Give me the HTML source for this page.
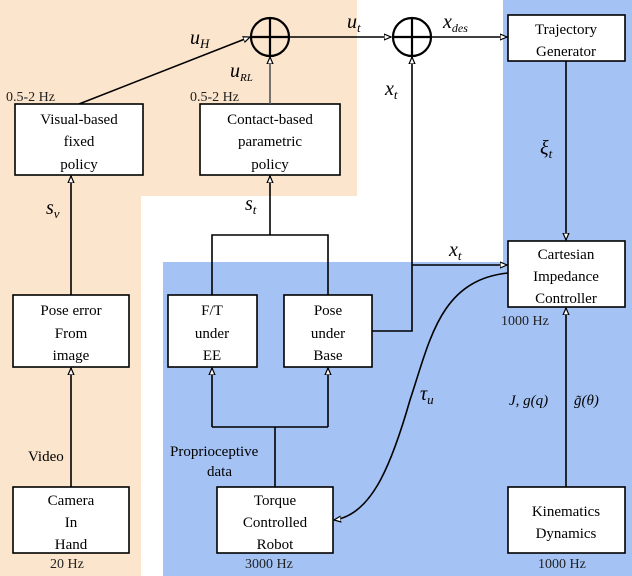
<!DOCTYPE html>
<html><head><style>
html,body{margin:0;padding:0;background:#fff;}
svg{display:block;}
text{font-family:"Liberation Serif",serif;font-size:15px;fill:#000;}
.m{font-style:italic;font-size:20px;}
.hz{font-size:14px;fill:#222;}
</style></head><body>
<svg width="632" height="576" viewBox="0 0 632 576" xmlns="http://www.w3.org/2000/svg">
<defs>
<marker id="a" markerWidth="8" markerHeight="8" refX="7" refY="4" orient="auto" markerUnits="userSpaceOnUse">
<path d="M0,1 L7,4 L0,7 Z" fill="#fff" stroke="#000" stroke-width="1.2"/>
</marker>
</defs>
<rect x="0" y="0" width="357" height="196" fill="#fce5cd"/>
<rect x="0" y="0" width="141" height="576" fill="#fce5cd"/>
<rect x="163" y="262" width="469" height="314" fill="#a4c2f4"/>
<rect x="503" y="0" width="129" height="576" fill="#a4c2f4"/>

<g fill="#fff" stroke="#000" stroke-width="1.6">
<rect x="15" y="104" width="128" height="71"/>
<rect x="200" y="104" width="140" height="71"/>
<rect x="508" y="15" width="117" height="46"/>
<rect x="508" y="241" width="117" height="66"/>
<rect x="13" y="295" width="116" height="72"/>
<rect x="168" y="295" width="89" height="72"/>
<rect x="284" y="295" width="88" height="72"/>
<rect x="13" y="487" width="116" height="66"/>
<rect x="217" y="487" width="116" height="66"/>
<rect x="508" y="487" width="117" height="66"/>
</g>
<g fill="none" stroke="#000" stroke-width="2.2">
<ellipse cx="270" cy="37" rx="19" ry="19"/>
<line x1="251" y1="37" x2="289" y2="37"/><line x1="270" y1="18" x2="270" y2="56"/>
<ellipse cx="412" cy="37" rx="19" ry="19"/>
<line x1="393" y1="37" x2="431" y2="37"/><line x1="412" y1="18" x2="412" y2="56"/>
</g>
<g fill="none" stroke="#000" stroke-width="1.6">
<line x1="79" y1="104" x2="250" y2="37" marker-end="url(#a)"/>
<line x1="270" y1="104" x2="270" y2="57" stroke="#555" marker-end="url(#a)"/>
<line x1="289" y1="37" x2="391" y2="37" marker-end="url(#a)"/>
<line x1="431" y1="37" x2="507" y2="37" marker-end="url(#a)"/>
<line x1="566" y1="61" x2="566" y2="240" marker-end="url(#a)"/>
<polyline points="372,331 412,331 412,57" marker-end="url(#a)"/>
<line x1="412" y1="265" x2="507" y2="265" marker-end="url(#a)"/>
<line x1="71" y1="295" x2="71" y2="176" marker-end="url(#a)"/>
<line x1="270" y1="235" x2="270" y2="176" marker-end="url(#a)"/>
<polyline points="212,295 212,235 328,235 328,295"/>
<line x1="71" y1="487" x2="71" y2="368" marker-end="url(#a)"/>
<line x1="275" y1="487" x2="275" y2="427"/>
<polyline points="212,427 328,427"/>
<line x1="212" y1="427" x2="212" y2="368" marker-end="url(#a)"/>
<line x1="328" y1="427" x2="328" y2="368" marker-end="url(#a)"/>
<line x1="566" y1="487" x2="566" y2="308" marker-end="url(#a)"/>
<path d="M508,273 C440,280 430,340 410,400 C390,470 370,515 334,520" marker-end="url(#a)"/>
</g>
<g text-anchor="middle">
<text x="79" y="124">Visual-based</text><text x="79" y="146">fixed</text><text x="79" y="169">policy</text>
<text x="270" y="124">Contact-based</text><text x="270" y="146">parametric</text><text x="270" y="169">policy</text>
<text x="566" y="34">Trajectory</text><text x="566" y="56">Generator</text>
<text x="566" y="259">Cartesian</text><text x="566" y="281">Impedance</text><text x="566" y="303">Controller</text>
<text x="71" y="315">Pose error</text><text x="71" y="338">From</text><text x="71" y="360">image</text>
<text x="212" y="315">F/T</text><text x="212" y="338">under</text><text x="212" y="360">EE</text>
<text x="328" y="315">Pose</text><text x="328" y="338">under</text><text x="328" y="360">Base</text>
<text x="71" y="505">Camera</text><text x="71" y="527">In</text><text x="71" y="549">Hand</text>
<text x="275" y="505">Torque</text><text x="275" y="527">Controlled</text><text x="275" y="549">Robot</text>
<text x="566" y="516">Kinematics</text><text x="566" y="538">Dynamics</text>
</g>
<text class="hz" x="6" y="101">0.5-2 Hz</text>
<text class="hz" x="190" y="101">0.5-2 Hz</text>
<text class="hz" x="501" y="325">1000 Hz</text>
<text class="hz" x="50" y="568">20 Hz</text>
<text class="hz" x="245" y="568">3000 Hz</text>
<text class="hz" x="538" y="568">1000 Hz</text>
<text x="28" y="461" font-size="14">Video</text>
<text x="170" y="456" font-size="14">Proprioceptive</text>
<text x="207" y="476" font-size="14">data</text>
<text class="m" x="190" y="44">u<tspan font-size="13" dy="4">H</tspan></text>
<text class="m" x="230" y="77">u<tspan font-size="11" dy="4">RL</tspan></text>
<text class="m" x="347" y="28">u<tspan font-size="13" dy="4">t</tspan></text>
<text class="m" x="443" y="28">x<tspan font-size="12" dy="4">des</tspan></text>
<text class="m" x="385" y="95">x<tspan font-size="13" dy="4">t</tspan></text>
<text class="m" x="449" y="256">x<tspan font-size="13" dy="4">t</tspan></text>
<text class="m" x="540" y="154">ξ<tspan font-size="13" dy="4">t</tspan></text>
<text class="m" x="46" y="214">s<tspan font-size="13" dy="4">v</tspan></text>
<text class="m" x="245" y="210">s<tspan font-size="13" dy="4">t</tspan></text>
<text class="m" x="420" y="400">τ<tspan font-size="13" dy="4">u</tspan></text>
<text x="509" y="405" font-style="italic" font-size="15">J, g(q)</text>
<text x="574" y="405" font-style="italic" font-size="16">g̃(θ)</text>
</svg>
</body></html>
